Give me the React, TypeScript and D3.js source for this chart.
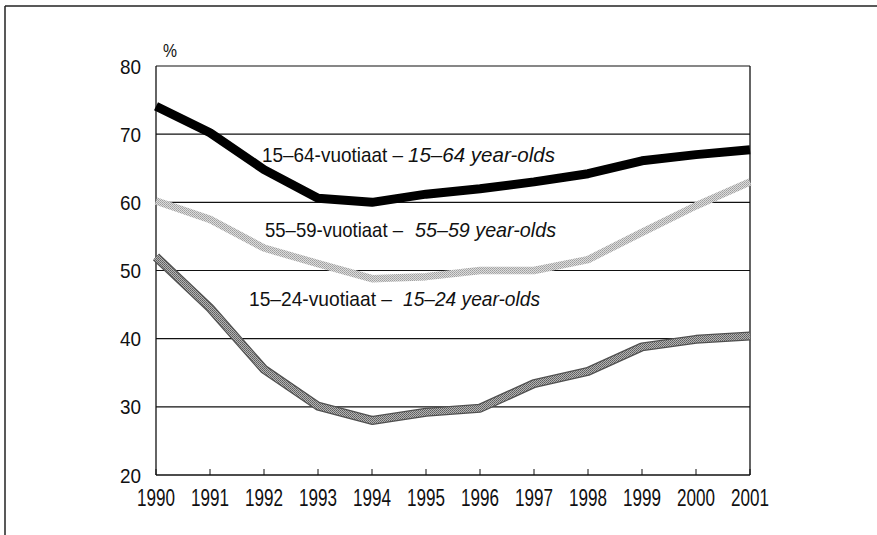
import * as d3 from 'd3';

const years = [1990, 1991, 1992, 1993, 1994, 1995, 1996, 1997, 1998, 1999, 2000, 2001];
const ages15to64 = [74.1, 70.2, 64.8, 60.6, 60.0, 61.2, 62.0, 63.0, 64.2, 66.1, 67.0, 67.7];
const ages55to59 = [60.2, 57.5, 53.3, 51.0, 48.8, 49.1, 50.0, 50.0, 51.6, 55.6, 59.5, 63.0];
const ages15to24 = [52.0, 44.5, 35.5, 30.1, 28.0, 29.2, 29.8, 33.4, 35.2, 38.8, 39.9, 40.4];
const yTicks = [20, 30, 40, 50, 60, 70, 80];

const FONT = "'Liberation Sans', Arial, sans-serif";

// series labels: Finnish part (regular) + English part (italic)
const labels = [
  { fi: '15–64-vuotiaat –', en: '15–64 year-olds', x0: 262, x1: 403, x2: 408, x3: 555, y: 162 },
  { fi: '55–59-vuotiaat –', en: '55–59 year-olds', x0: 265, x1: 403, x2: 415, x3: 556, y: 237 },
  { fi: '15–24-vuotiaat –', en: '15–24 year-olds', x0: 249, x1: 392, x2: 403, x3: 540, y: 306 },
];

export default function App() {
  const width = 877;
  const height = 535;
  const x = d3.scaleLinear().domain([1990, 2001]).range([156, 750]);
  const y = d3.scaleLinear().domain([20, 80]).range([475, 66]);

  const line = d3.line<number>()
    .x((_, i) => x(years[i]))
    .y(d => y(d));

  return (
    <svg width={width} height={height} style={{ position: 'absolute', left: 0, top: 0, background: '#fff' }}>
      <defs>
        <pattern id="lightDots" width="2" height="2" patternUnits="userSpaceOnUse">
          <rect width="2" height="2" fill="#dcdcdc" />
          <rect width="1" height="1" fill="#9e9e9e" />
          <rect x="1" y="1" width="1" height="1" fill="#acacac" />
        </pattern>
        <pattern id="darkDots" width="2" height="2" patternUnits="userSpaceOnUse">
          <rect width="2" height="2" fill="#b4b4b4" />
          <rect width="1" height="1" fill="#5c5c5c" />
          <rect x="1" y="1" width="1" height="1" fill="#6c6c6c" />
        </pattern>
      </defs>

      {/* outer frame (top + left only) */}
      <line x1={5} x2={877} y1={6} y2={6} stroke="#222" strokeWidth={1.5} />
      <line x1={5} x2={5} y1={6} y2={535} stroke="#222" strokeWidth={1.5} />

      {/* gridlines */}
      {yTicks.slice(1).map(t => (
        <line key={t} x1={x(1990)} x2={x(2001)} y1={y(t)} y2={y(t)} stroke="#111" strokeWidth={1.1} />
      ))}

      {/* axes */}
      <line x1={x(1990)} x2={x(1990)} y1={y(80)} y2={y(20)} stroke="#111" strokeWidth={1.3} />
      <line x1={x(2001)} x2={x(2001)} y1={y(80)} y2={y(20)} stroke="#111" strokeWidth={1.3} />
      <line x1={x(1990)} x2={x(2001)} y1={y(20)} y2={y(20)} stroke="#111" strokeWidth={1.3} />
      {years.map(yr => (
        <line key={yr} x1={x(yr)} x2={x(yr)} y1={y(20)} y2={y(20) - 6} stroke="#111" strokeWidth={1} />
      ))}

      {/* y tick labels */}
      {yTicks.map(t => (
        <text key={t} x={141} y={y(t) + 7.5} textAnchor="end" fontFamily={FONT} fontSize={21}
          textLength={21} lengthAdjust="spacingAndGlyphs" fill="#111">{t}</text>
      ))}
      <text x={163} y={57} fontFamily={FONT} fontSize={19} textLength={14} lengthAdjust="spacingAndGlyphs" fill="#111">%</text>

      {/* x tick labels */}
      {years.map(yr => (
        <text key={yr} x={x(yr)} y={506} textAnchor="middle" fontFamily={FONT} fontSize={23}
          textLength={38} lengthAdjust="spacingAndGlyphs" fill="#111">{yr}</text>
      ))}

      {/* series */}
      <path d={line(ages15to24) ?? ''} fill="none" stroke="#505050" strokeWidth={9} strokeLinejoin="round" />
      <path d={line(ages15to24) ?? ''} fill="none" stroke="url(#darkDots)" strokeWidth={6.5} strokeLinejoin="round" />
      <path d={line(ages55to59) ?? ''} fill="none" stroke="url(#lightDots)" strokeWidth={7.5} strokeLinejoin="round" />
      <path d={line(ages15to64) ?? ''} fill="none" stroke="#000" strokeWidth={9} strokeLinejoin="round" />

      {/* labels */}
      {labels.map(l => (
        <g key={l.fi}>
          <text x={l.x0} y={l.y} fontFamily={FONT} fontSize={21} textLength={l.x1 - l.x0}
            lengthAdjust="spacingAndGlyphs" fill="#111">{l.fi}</text>
          <text x={l.x2} y={l.y} fontFamily={FONT} fontSize={21} fontStyle="italic" textLength={l.x3 - l.x2}
            lengthAdjust="spacingAndGlyphs" fill="#111">{l.en}</text>
        </g>
      ))}
    </svg>
  );
}
